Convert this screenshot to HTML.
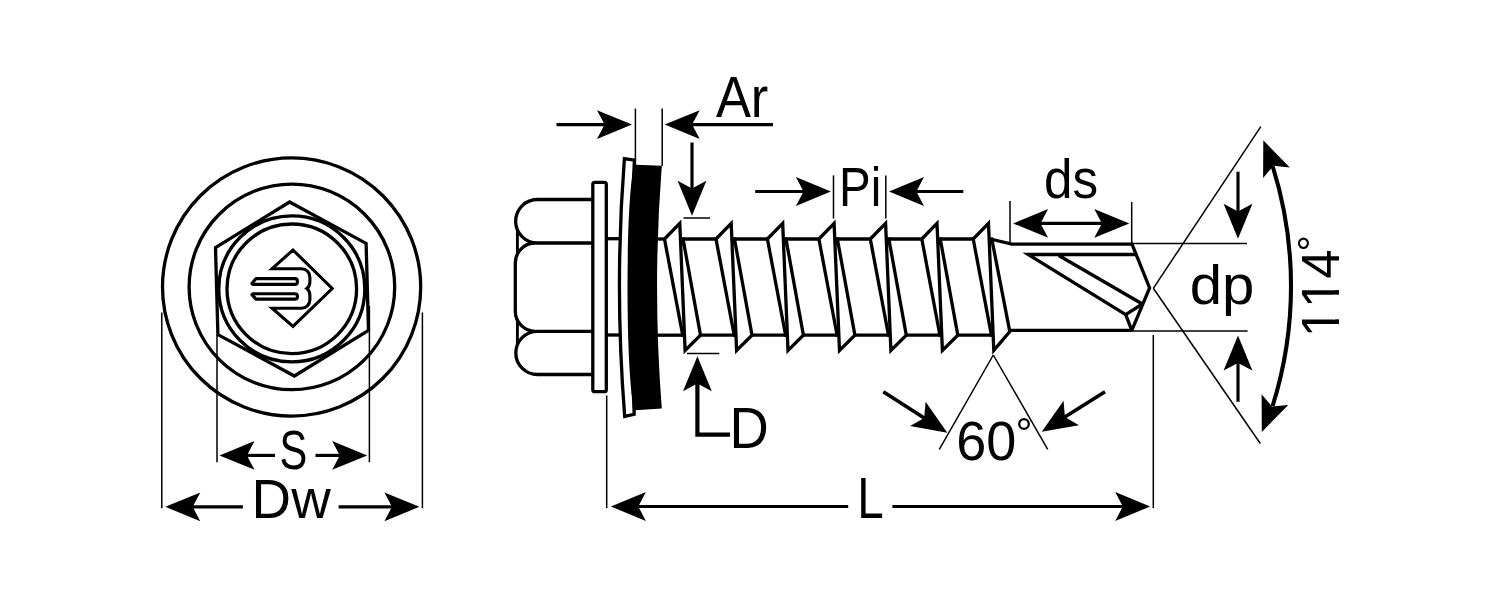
<!DOCTYPE html>
<html lang="en">
<head>
<meta charset="utf-8">
<title>Self-drilling screw dimension drawing</title>
<style>
html,body{margin:0;padding:0;background:#fff;}
body{width:1500px;height:600px;overflow:hidden;}
svg{display:block;}
.m{fill:none;stroke:#000;stroke-width:3.30;stroke-linejoin:miter;stroke-miterlimit:6;}
.m2{fill:none;stroke:#000;stroke-width:2.9;}
.lg{fill:none;stroke:#000;stroke-width:3.1;stroke-linejoin:miter;stroke-miterlimit:6;}
.t{fill:none;stroke:#000;stroke-width:1.50;}
.a{fill:#000;stroke:none;}
.al{fill:none;stroke:#000;stroke-width:3.15;}
.w{fill:#fff;stroke:none;}
.tx{font-family:"Liberation Sans",sans-serif;fill:#000;}
</style>
</head>
<body>
<svg width="1500" height="600" viewBox="0 0 1500 600">
<rect width="1500" height="600" fill="#fff"/>
<g class="m">
<circle cx="291.6" cy="287.0" r="129.1"/>
<circle cx="291.9" cy="286.9" r="102.8"/>
<circle cx="291.8" cy="288.9" r="73"/>
<circle cx="291.8" cy="288.8" r="64.8"/>
<polygon points="289.6,202.0 366.1,243.4 368.5,330.4 294.4,376.0 217.9,334.6 215.5,247.6"/>
</g>
<g class="lg">
<path d="M272.1,268.7 H301.4 C306.2,268.7 309.9,272.4 309.9,277.2 V281.4 C309.9,284.6 309,287 306.8,288.5 C309,290 309.9,292.4 309.9,295.6 V299.8 C309.9,304.6 306.2,308.2 301.4,308.2 H272.1 L293,326.4 L332.2,288.5 L293,250 Z"/>
<path stroke-linejoin="round" d="M251.9,283.6 L256,278.6 H294.8 Q297.4,278.6 297.4,281 V282 Q297.4,284.4 294.8,284.4 H252.8 Z"/>
<path stroke-linejoin="round" d="M251.9,294.6 L256,299.1 H294.8 Q297.4,299.1 297.4,296.9 V296 Q297.4,293.8 294.8,293.8 H252.8 Z"/>
</g>
<g class="t">
<line x1="161.8" y1="312.5" x2="161.8" y2="508.2"/>
<line x1="422.4" y1="312.5" x2="422.4" y2="508.2"/>
<line x1="217.0" y1="335.0" x2="217.0" y2="462.3"/>
<line x1="369.4" y1="306.0" x2="369.4" y2="462.3"/>
</g>
<g class="a">
<polygon points="219.5,455.4 254.5,469.8 246.9,455.4 254.5,441.0"/>
<polygon points="367.2,455.4 332.2,441.0 339.8,455.4 332.2,469.8"/>
<polygon points="165.3,506.8 200.3,521.2 192.7,506.8 200.3,492.4"/>
<polygon points="419.4,506.8 384.4,492.4 392.0,506.8 384.4,521.2"/>
</g>
<g class="al">
<line x1="246.0" y1="455.4" x2="275.0" y2="455.4"/>
<line x1="315.5" y1="455.4" x2="340.0" y2="455.4"/>
<line x1="192.0" y1="506.8" x2="242.9" y2="506.8"/>
<line x1="338.6" y1="506.8" x2="392.0" y2="506.8"/>
</g>
<g class="m">
<path d="M592.8,199.5 H537.4 A21.75,21.75 0 0 0 537.4,243 H592.8"/>
<path d="M592.8,331.3 H537.4 A21.6,21.6 0 0 0 537.4,374.5 H592.8"/>
<path d="M535.3,243 A20,20 0 0 0 515.3,263 V311.3 A20,20 0 0 0 535.3,331.3"/>
<rect x="592.8" y="182.3" width="13.5" height="209.4" rx="2"/>
<line x1="606.3" y1="238.7" x2="621.0" y2="238.7"/>
<line x1="606.3" y1="335.0" x2="621.0" y2="335.0"/>
</g>
<g class="m2">
<line x1="517.4" y1="229.0" x2="517.4" y2="255.0"/>
<line x1="517.4" y1="319.0" x2="517.4" y2="345.0"/>
</g>
<path class="m" fill="#fff" d="M624.4,158.6 Q614.3,287 624.7,416.4 L634.2,414.3 Q627.5,287 634.4,160.2 Z"/>
<path fill="#000" d="M635,164.7 C625,185 625,390 635.2,410.2 L661.8,408.5 Q652.3,287 661.8,165.8 Z"/>
<g class="m">
<path d="M664.5,239.0 L679.8,223.4 L685.1,350.4 L700.5,335.2 L682.8,237.5"/>
<path d="M664.5,239.0 L683.0,336.7"/>
<line x1="657.0" y1="239.0" x2="664.5" y2="239.0"/>
<line x1="656.5" y1="335.2" x2="683.8" y2="335.2"/>
<path d="M716.0,239.0 L731.2,223.4 L736.6,350.4 L752.0,335.2 L734.2,237.5"/>
<path d="M716.0,239.0 L734.5,336.7"/>
<line x1="681.5" y1="239.0" x2="716.0" y2="239.0"/>
<line x1="700.5" y1="335.2" x2="735.2" y2="335.2"/>
<path d="M767.4,239.0 L782.7,223.4 L788.0,350.4 L803.4,335.2 L785.7,237.5"/>
<path d="M767.4,239.0 L785.9,336.7"/>
<line x1="733.0" y1="239.0" x2="767.4" y2="239.0"/>
<line x1="752.0" y1="335.2" x2="786.7" y2="335.2"/>
<path d="M818.9,239.0 L834.1,223.4 L839.5,350.4 L854.9,335.2 L837.1,237.5"/>
<path d="M818.9,239.0 L837.4,336.7"/>
<line x1="784.4" y1="239.0" x2="818.9" y2="239.0"/>
<line x1="803.4" y1="335.2" x2="838.1" y2="335.2"/>
<path d="M870.3,239.0 L885.6,223.4 L890.9,350.4 L906.3,335.2 L888.6,237.5"/>
<path d="M870.3,239.0 L888.8,336.7"/>
<line x1="835.9" y1="239.0" x2="870.3" y2="239.0"/>
<line x1="854.9" y1="335.2" x2="889.6" y2="335.2"/>
<path d="M921.8,239.0 L937.0,223.4 L942.4,350.4 L957.8,335.2 L940.0,237.5"/>
<path d="M921.8,239.0 L940.2,336.7"/>
<line x1="887.3" y1="239.0" x2="921.8" y2="239.0"/>
<line x1="906.3" y1="335.2" x2="941.0" y2="335.2"/>
<path d="M973.2,239.0 L988.5,223.4 L993.8,350.4 L1009.8,331.6 L991.5,237.5"/>
<path d="M973.2,239.0 L991.7,336.7"/>
<line x1="938.8" y1="239.0" x2="973.2" y2="239.0"/>
<line x1="957.8" y1="335.2" x2="992.5" y2="335.2"/>
<path d="M990.2,239.0 L1011.9,244.1 H1132.0 L1149.6,288.0 L1131.8,330.4 H1009.8"/>
<path d="M1135.8,254.5 H1028.2 L1125.7,314.6 L1142.4,304 M1058.8,255.5 L1142.4,304 M1125.7,314.6 L1131.8,330.4"/>
</g>
<g class="t">
<line x1="635.4" y1="108.6" x2="635.4" y2="165.0"/>
<line x1="662.2" y1="108.6" x2="662.2" y2="166.0"/>
<line x1="683.5" y1="218.0" x2="710.0" y2="218.0"/>
<line x1="687.0" y1="353.5" x2="719.3" y2="353.5"/>
<line x1="833.5" y1="175.4" x2="833.5" y2="218.6"/>
<line x1="885.8" y1="175.4" x2="885.8" y2="218.6"/>
<line x1="1010.0" y1="201.0" x2="1010.0" y2="243.0"/>
<line x1="1131.7" y1="202.0" x2="1131.7" y2="243.0"/>
<line x1="1132.0" y1="243.5" x2="1247.0" y2="243.5"/>
<line x1="1132.0" y1="331.0" x2="1247.6" y2="331.0"/>
<line x1="1153.3" y1="335.0" x2="1153.3" y2="508.1"/>
<line x1="606.7" y1="395.5" x2="606.7" y2="508.1"/>
<line x1="1153.3" y1="288.3" x2="1260.8" y2="126.7"/>
<line x1="1153.3" y1="288.3" x2="1260.3" y2="443.5"/>
<line x1="993.3" y1="355.0" x2="939.3" y2="449.3"/>
<line x1="993.3" y1="355.0" x2="1047.7" y2="449.3"/>
</g>
<g class="a">
<polygon points="632.0,124.6 597.0,110.2 604.6,124.6 597.0,139.0"/>
<polygon points="664.7,124.6 699.7,139.0 692.1,124.6 699.7,110.2"/>
<polygon points="692.0,215.8 706.4,180.8 692.0,188.4 677.6,180.8"/>
<polygon points="697.4,356.2 683.0,391.2 697.4,383.6 711.8,391.2"/>
<polygon points="830.9,191.5 795.9,177.1 803.5,191.5 795.9,205.9"/>
<polygon points="889.0,191.5 924.0,205.9 916.4,191.5 924.0,177.1"/>
<polygon points="1013.1,223.4 1048.1,237.8 1040.5,223.4 1048.1,209.0"/>
<polygon points="1129.3,223.4 1094.3,209.0 1101.9,223.4 1094.3,237.8"/>
<polygon points="1238.0,238.8 1252.4,203.8 1238.0,211.4 1223.6,203.8"/>
<polygon points="1238.0,335.6 1223.6,370.6 1238.0,363.0 1252.4,370.6"/>
<polygon points="610.9,506.5 645.9,520.9 638.3,506.5 645.9,492.1"/>
<polygon points="1150.2,506.5 1115.2,492.1 1122.8,506.5 1115.2,520.9"/>
<polygon points="947.3,432.7 925.6,401.7 924.2,417.9 910.1,425.9"/>
<polygon points="1041.7,431.7 1079.0,425.2 1064.9,417.1 1063.6,400.8"/>
</g>
<g class="al">
<line x1="556.5" y1="124.6" x2="606.0" y2="124.6"/>
<line x1="690.0" y1="124.6" x2="773.0" y2="124.6"/>
<line x1="692.0" y1="142.5" x2="692.0" y2="190.0"/>
<path style="stroke-width:4.2" d="M697.4,382 V434.6 H730"/>
<line x1="755.2" y1="191.5" x2="805.0" y2="191.5"/>
<line x1="915.0" y1="191.5" x2="963.3" y2="191.5"/>
<line x1="1040.0" y1="223.4" x2="1103.0" y2="223.4"/>
<line x1="1238.0" y1="171.7" x2="1238.0" y2="212.0"/>
<line x1="1238.0" y1="362.0" x2="1238.0" y2="401.8"/>
<line x1="637.0" y1="506.5" x2="848.2" y2="506.5"/>
<line x1="892.4" y1="506.5" x2="1124.0" y2="506.5"/>
<g style="stroke-width:3.6"><line x1="883.3" y1="391.7" x2="925.0" y2="418.4"/><line x1="1105.0" y1="391.7" x2="1064.0" y2="417.6"/></g>
</g>
<path class="al" style="stroke-width:4.1" d="M1272.6,166 A400,400 0 0 1 1272.6,406"/>
<g class="a">
<polygon points="1263.3,140.3 1263.1,178.1 1273.6,165.7 1289.8,167.4"/>
<polygon points="1261.8,432.0 1288.3,404.9 1272.1,406.6 1261.6,394.2"/>
</g>
<g class="tx" opacity="0.999">
<text transform="translate(715.9,117.0) scale(0.917,1)" font-size="57.2" text-anchor="start">Ar</text>
<text transform="translate(839.1,205.9) scale(0.846,1)" font-size="56.2" text-anchor="start">Pi</text>
<text transform="translate(1044.0,198.4) scale(0.923,1)" font-size="55.5" text-anchor="start">ds</text>
<text transform="translate(1189.7,304.2) scale(1.052,1)" font-size="55.2" text-anchor="start">dp</text>
<text transform="translate(729.6,447.7) scale(0.955,1)" font-size="57.0" text-anchor="start">D</text>
<text transform="translate(857.2,517.9) scale(0.843,1)" font-size="56.5" text-anchor="start">L</text>
<text transform="translate(279.4,469.4) scale(0.759,1)" font-size="54.8" text-anchor="start">S</text>
<text transform="translate(251.6,517.8) scale(0.976,1)" font-size="56.1" text-anchor="start">Dw</text>
<text transform="translate(956.2,460.1) scale(0.972,1)" font-size="55.6" text-anchor="start">60</text>
<text transform="translate(1015.4,448.2)" font-size="42.5" text-anchor="start">°</text>
<g transform="translate(1339.2,337.2) rotate(-90) scale(0.972,1)"><text font-size="54.1" style="font-kerning:none">114</text><rect class="w" x="2.16" y="-5.41" width="11.50" height="6.91"/><rect class="w" x="18.39" y="-5.41" width="10.82" height="6.91"/><rect class="w" x="32.24" y="-5.41" width="11.50" height="6.91"/><rect class="w" x="48.47" y="-5.41" width="10.82" height="6.91"/></g>
<text transform="translate(1326.2,251.4) rotate(-90)" font-size="41.0" text-anchor="start">°</text>
</g>
</svg>
</body>
</html>
